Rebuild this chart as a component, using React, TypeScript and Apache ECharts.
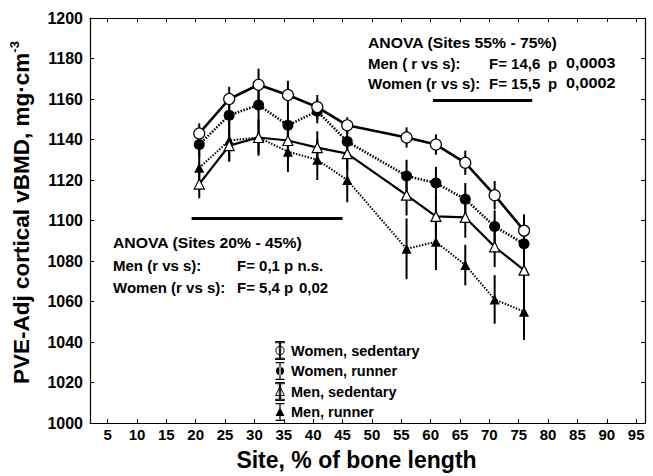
import React, { useEffect, useRef } from 'react';
import * as echarts from 'echarts';

// Site (% of bone length) at which each group of points is drawn
const sites = [20.6, 25.7, 30.7, 35.7, 40.7, 45.8, 55.9, 60.9, 65.9, 70.9, 75.9];

const womenSedentary = [1143, 1160, 1167, 1162, 1156, 1147, 1141, 1137.5, 1128.5, 1112.5, 1095];
const womenSedentaryErr = [5, 6, 8, 7, 6, 4, 5, 5, 6, 7, 8];

const womenRunner = [1137.5, 1152, 1157, 1147, 1154, 1139, 1122, 1118.5, 1110.5, 1097, 1088.5];
const womenRunnerErr = [6, 7, 8, 8, 6, 7, 8, 8, 8, 8, 9];

const menSedentary = [1118, 1137, 1141, 1139.5, 1136, 1133, 1112.5, 1102, 1101.5, 1087, 1075.5];
const menSedentaryErr = [7, 8, 8, 9, 8, 8, 10, 10, 10, 10, 10];

const menRunner = [1126, 1139.5, 1141, 1134, 1130, 1120, 1086, 1089.5, 1078, 1061, 1055];
const menRunnerErr = [9, 10, 9, 10, 10, 11, 15, 14, 10, 12, 14];

const xTicks = [5, 10, 15, 20, 25, 30, 35, 40, 45, 50, 55, 60, 65, 70, 75, 80, 85, 90, 95];

// ANOVA bars: [from site, to site, at value]
const anovaLeft = [19.3, 45.0, 1101];
const anovaRight = [60.4, 77.3, 1159.3];

const FONT = '"Liberation Sans", Arial, Helvetica, sans-serif';

const ICON_CIRCLE =
  'path://M1,0H11V1.4H1ZM1,18.6H11V20H1ZM5.3,1.4H6.7V18.6H5.3ZM1.5,10A4.5,4.5,0,1,0,10.5,10A4.5,4.5,0,1,0,1.5,10Z';
const ICON_TRI = 'path://M1,0H11V1.4H1ZM1,18.6H11V20H1ZM5.3,1.4H6.7V18.6H5.3ZM6,5L11,14.5H1Z';

function errData(vals: number[], errs: number[]) {
  return sites.map((x, i) => [x, vals[i] - errs[i], vals[i] + errs[i]]);
}
function pts(vals: number[]) {
  return sites.map((x, i) => [x, vals[i]]);
}

const renderErr = (_params: any, api: any) => {
  const x = api.value(0);
  const lo = api.coord([x, api.value(1)]);
  const hi = api.coord([x, api.value(2)]);
  return {
    type: 'line',
    shape: { x1: lo[0], y1: lo[1], x2: hi[0], y2: hi[1] },
    style: { stroke: '#000', lineWidth: 2 },
  };
};

function errSeries(name: string, vals: number[], errs: number[]) {
  return {
    name,
    type: 'custom',
    renderItem: renderErr,
    data: errData(vals, errs),
    encode: { x: 0, y: [1, 2] },
    silent: true,
    z: 1,
  };
}

const txt = (x: number, y: number, text: string, sx = 1) => ({
  type: 'text',
  x,
  y,
  scaleX: sx,
  style: {
    text,
    fill: '#000',
    font: `bold 15px ${FONT}`,
    textVerticalAlign: 'middle',
    textAlign: 'left',
  },
});

export default function App() {
  const ref = useRef<HTMLDivElement>(null);
  useEffect(() => {
    if (!ref.current) return;
    document.body.style.margin = '0';
    const chart = echarts.init(ref.current, null, { renderer: 'svg' });
    const axisLine = { show: true, onZero: false, lineStyle: { color: '#000', width: 1.2 } };
    const tickStyle = { inside: true, length: 4, lineStyle: { color: '#000', width: 1 } };
    chart.setOption({
      animation: false,
      backgroundColor: '#fff',
      grid: { left: 86, right: 8, top: 18, bottom: 52, containLabel: false },
      xAxis: [
        {
          type: 'value',
          min: 2,
          max: 96.5,
          position: 'bottom',
          axisLine,
          axisTick: { ...tickStyle, customValues: xTicks },
          axisLabel: {
            customValues: xTicks,
            color: '#000',
            fontWeight: 'bold',
            fontSize: 15,
            fontFamily: FONT,
            margin: 4,
          },
          splitLine: { show: false },
          name: 'Site, % of bone length',
          nameLocation: 'middle',
          nameGap: 25,
          nameTextStyle: {
            color: '#000',
            fontWeight: 'bold',
            fontSize: 23,
            fontFamily: FONT,
            padding: [0, 22, 0, 0],
          },
        },
        {
          type: 'value',
          min: 2,
          max: 96.5,
          position: 'top',
          axisLine,
          axisTick: { ...tickStyle, customValues: xTicks },
          axisLabel: { show: false },
          splitLine: { show: false },
        },
      ],
      yAxis: [
        {
          type: 'value',
          min: 1000,
          max: 1200,
          interval: 20,
          axisLine,
          axisTick: tickStyle,
          axisLabel: {
            color: '#000',
            fontWeight: 'bold',
            fontSize: 16,
            fontFamily: FONT,
            margin: 7,
            formatter: (v: number) => String(v),
          },
          splitLine: { show: false },
          name: '{a|PVE-Adj cortical vBMD, mg·cm}{b|-3}',
          nameLocation: 'middle',
          nameGap: 56,
          nameTextStyle: {
            color: '#000',
            padding: [0, 0, 0, 16],
            rich: {
              a: { fontSize: 22.5, fontWeight: 'bold', fontFamily: FONT, color: '#000' },
              b: { fontSize: 13, fontWeight: 'bold', fontFamily: FONT, color: '#000', padding: [0, 0, 13, 0] },
            },
          },
        },
        {
          type: 'value',
          min: 1000,
          max: 1200,
          interval: 20,
          position: 'right',
          axisLine,
          axisTick: tickStyle,
          axisLabel: { show: false },
          splitLine: { show: false },
        },
      ],
      legend: {
        orient: 'vertical',
        left: 275,
        top: 341,
        itemWidth: 12,
        itemHeight: 18,
        itemGap: 2,
        padding: 0,
        textStyle: { color: '#000', fontWeight: 'bold', fontSize: 14.5, fontFamily: FONT, lineHeight: 18 },
        data: [
          { name: 'Women, sedentary', icon: ICON_CIRCLE, itemStyle: { color: '#fff', borderColor: '#000', borderWidth: 1 } },
          { name: 'Women, runner', icon: ICON_CIRCLE, itemStyle: { color: '#000', borderWidth: 0 } },
          { name: 'Men, sedentary', icon: ICON_TRI, itemStyle: { color: '#fff', borderColor: '#000', borderWidth: 1 } },
          { name: 'Men, runner', icon: ICON_TRI, itemStyle: { color: '#000', borderWidth: 0 } },
        ],
      },
      series: [
        errSeries('ws-err', womenSedentary, womenSedentaryErr),
        errSeries('wr-err', womenRunner, womenRunnerErr),
        errSeries('ms-err', menSedentary, menSedentaryErr),
        errSeries('mr-err', menRunner, menRunnerErr),
        {
          name: 'Men, runner',
          type: 'line',
          data: pts(menRunner),
          symbol: 'triangle',
          symbolSize: 10,
          itemStyle: { color: '#000' },
          lineStyle: { color: '#000', width: 2, type: [1.5, 1.5] },
          z: 3,
        },
        {
          name: 'Men, sedentary',
          type: 'line',
          data: pts(menSedentary),
          symbol: 'triangle',
          symbolSize: 10,
          itemStyle: { color: '#fff', borderColor: '#000', borderWidth: 1.2 },
          lineStyle: { color: '#000', width: 2.2 },
          z: 4,
        },
        {
          name: 'Women, runner',
          type: 'line',
          data: pts(womenRunner),
          symbol: 'circle',
          symbolSize: 11,
          itemStyle: { color: '#000' },
          lineStyle: { color: '#000', width: 2.6, type: [1.5, 1.5] },
          z: 5,
        },
        {
          name: 'Women, sedentary',
          type: 'line',
          data: pts(womenSedentary),
          symbol: 'circle',
          symbolSize: 11,
          itemStyle: { color: '#fff', borderColor: '#000', borderWidth: 1.2 },
          lineStyle: { color: '#000', width: 2.6 },
          z: 6,
          markLine: {
            silent: true,
            symbol: ['none', 'none'],
            label: { show: false },
            lineStyle: { color: '#000', width: 3, type: 'solid' },
            data: [
              [{ coord: [anovaLeft[0], anovaLeft[2]] }, { coord: [anovaLeft[1], anovaLeft[2]] }],
              [{ coord: [anovaRight[0], anovaRight[2]] }, { coord: [anovaRight[1], anovaRight[2]] }],
            ],
          },
        },
      ],
      graphic: [
        txt(368, 43, 'ANOVA (Sites 55% - 75%)', 1.05),
        txt(368, 63, 'Men ( r vs s):'),
        txt(489, 63, 'F= 14,6'),
        txt(548, 63, 'p'),
        txt(566, 63, '0,0003', 1.08),
        txt(368, 83, 'Women (r vs s):'),
        txt(489, 83, 'F= 15,5'),
        txt(548, 83, 'p'),
        txt(566, 83, '0,0002', 1.08),
        txt(113, 243, 'ANOVA (Sites 20% - 45%)', 1.05),
        txt(113, 265, 'Men (r vs s):'),
        txt(237, 265, 'F= 0,1 p n.s.'),
        txt(113, 287, 'Women (r vs s):'),
        txt(237, 287, 'F= 5,4'),
        txt(284, 287, 'p'),
        txt(299, 287, '0,02'),
      ],
    });
    return () => chart.dispose();
  }, []);
  return <div ref={ref} style={{ width: 653, height: 476 }} />;
}
